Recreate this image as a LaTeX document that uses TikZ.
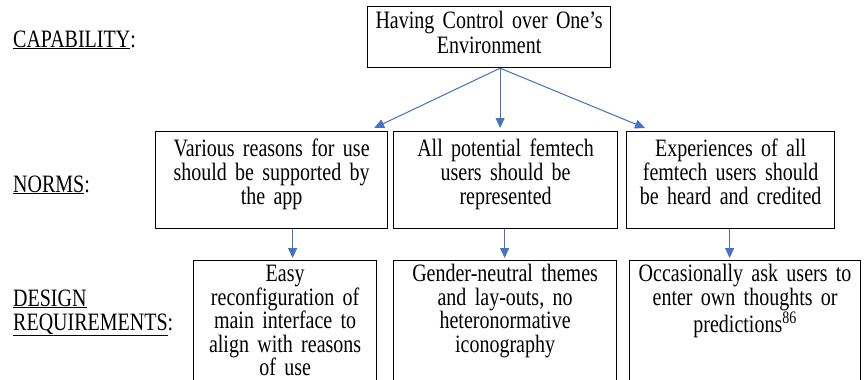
\documentclass[tikz,border=0pt]{standalone}
\usepackage{fontspec}
\setmainfont{Liberation Serif}[FakeStretch=0.8]
\usetikzlibrary{arrows.meta,positioning}

\definecolor{arrowblue}{RGB}{68,114,196}

\begin{document}
\begin{tikzpicture}[
    x=1pt, y=-1pt,
    every node/.style={font=\fontsize{25}{24}\selectfont},
    block/.style={rectangle, draw, line width=1.2pt, anchor=north west, align=center, inner xsep=0pt, execute at begin node={\rule{0pt}{20pt}}},
    rowlabel/.style={anchor=base west, align=left, inner sep=0pt},
    arrow/.style={-{Triangle[length=10pt, width=9pt]}, draw=arrowblue, fill=arrowblue, line width=1pt}
]

\clip (0,0) rectangle (865,380);

% -------------------------
% Row labels
% -------------------------
    \node[rowlabel] (lab1) at (13, 47) {\underline{CAPABILITY}:};
    \node[rowlabel] (lab2) at (13, 192) {\underline{NORMS}:};
    \node[rowlabel] (lab3) at (13, 330) {\underline{DESIGN}\\\underline{REQUIREMENTS}:};

% -------------------------
% Capability
% -------------------------
    \node[block, font=\fontsize{25}{25}\selectfont, text width=243pt, inner ysep=2pt, text depth=37pt] (cap) at (367, 6) {Having Control over One’s\\Environment};

% -------------------------
% Norms
% -------------------------
    \node[block, text width=232pt, inner ysep=5pt, text depth=67pt] (n1) at (155, 131) {Various reasons for use\\should be supported by\\the app};
    \node[block, text width=224pt, inner ysep=5pt, text depth=67pt] (n2) at (393, 131) {All potential femtech\\users should be\\represented};
    \node[block, text width=208pt, inner ysep=5pt, text depth=67pt] (n3) at (626, 131) {Experiences of all\\femtech users should\\be heard and credited};

% -------------------------
% Design requirements
% -------------------------
    \node[block, font=\fontsize{25}{23.5}\selectfont, text width=183pt, inner ysep=1pt, text depth=115pt] (r1) at (193, 260) {Easy\\reconfiguration of\\main interface to\\align with reasons\\of use};
    \node[block, font=\fontsize{25}{23.5}\selectfont, text width=223pt, inner ysep=1pt, text depth=115pt] (r2) at (393, 260) {Gender-neutral themes\\and lay-outs, no\\heteronormative\\iconography};
    \node[block, font=\fontsize{25}{23.5}\selectfont, text width=231pt, inner ysep=1pt, text depth=115pt] (r3) at (629, 260) {Occasionally ask users to\\enter own thoughts or\\predictions\textsuperscript{86}};

% -------------------------
% Arrows
% -------------------------
    % capability to norms
    \coordinate (split) at ([xshift=11pt]cap.south);
    \draw[arrow] (split) -- ([xshift=-14pt, yshift=3pt]n1.north east);
    \draw[arrow, shorten >=3pt] (split) -- (split |- n2.north);
    \draw[arrow] (split) -- ([xshift=19pt, yshift=3pt]n3.north west);

    % norms to design requirements
    \draw[arrow, shorten >=2pt] ([xshift=21pt]n1.south) coordinate (a1) -- (a1 |- r1.north);
    \draw[arrow, shorten >=2pt] ([xshift=-1pt]n2.south) coordinate (a2) -- (a2 |- r2.north);
    \draw[arrow, shorten >=2pt] ([xshift=-1pt]n3.south) coordinate (a3) -- (a3 |- r3.north);
\end{tikzpicture}
\end{document}
